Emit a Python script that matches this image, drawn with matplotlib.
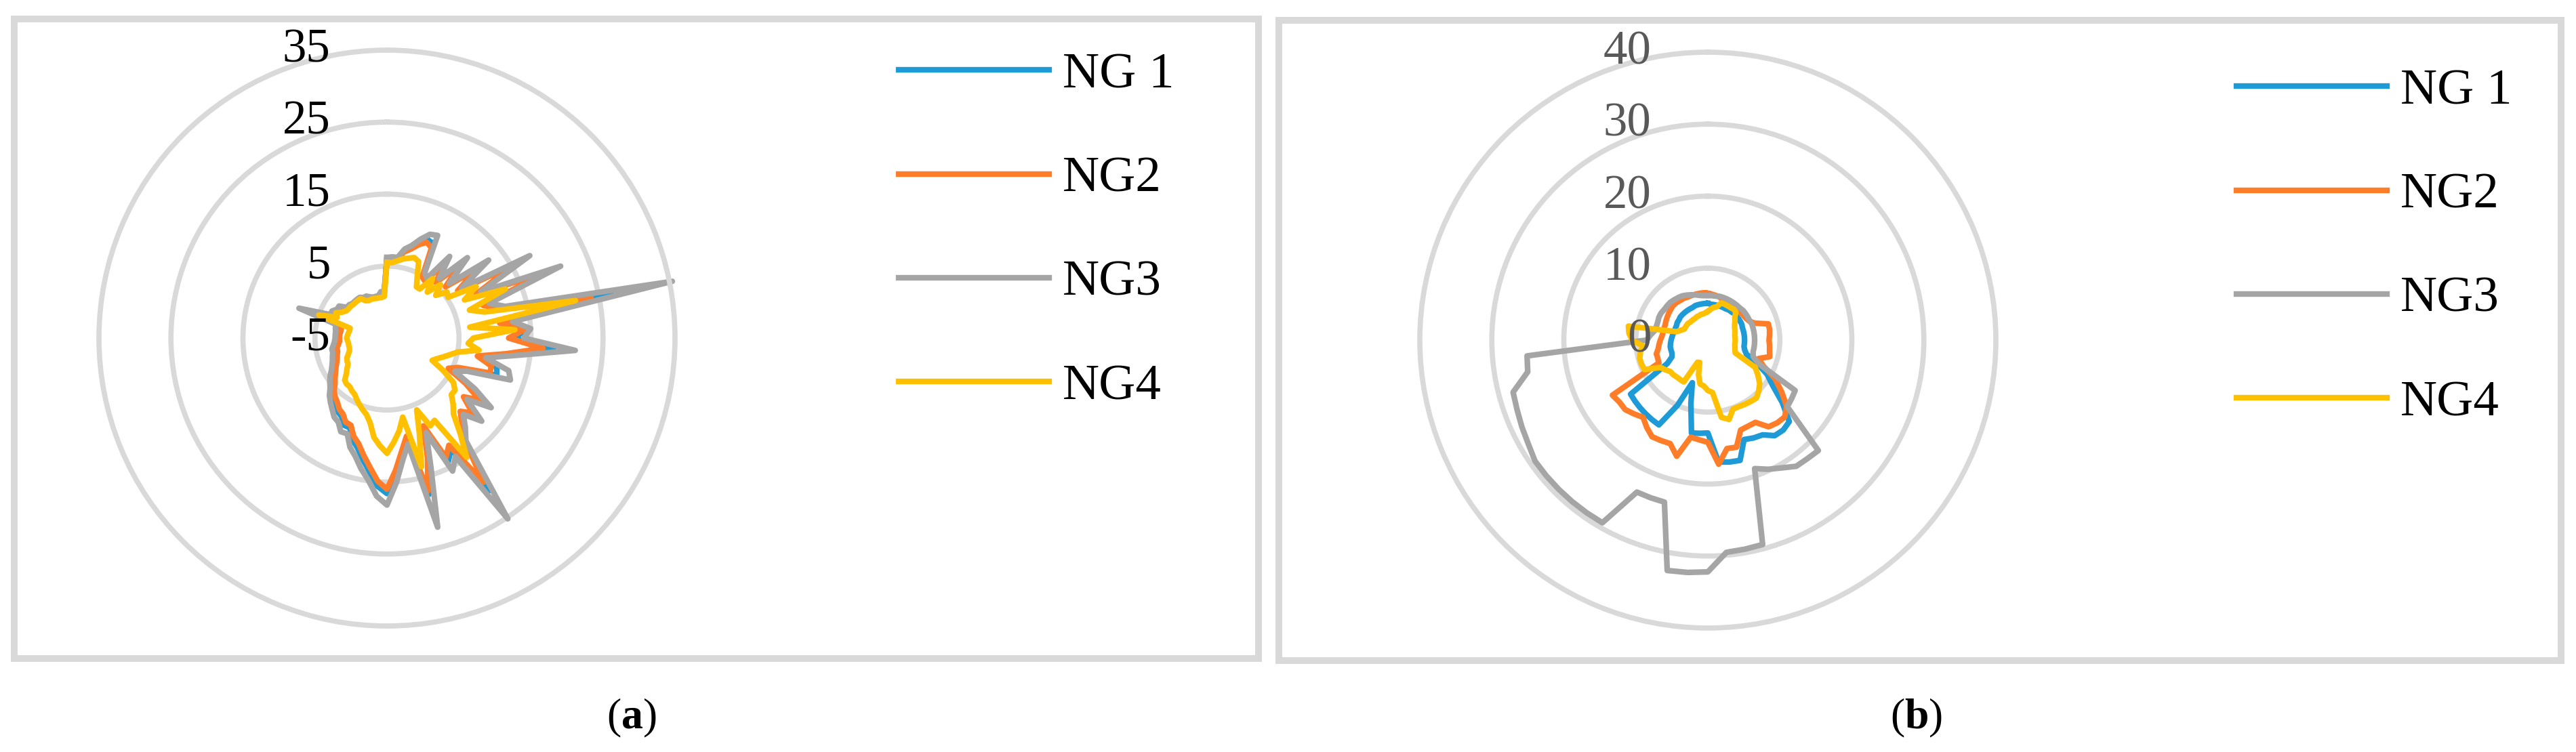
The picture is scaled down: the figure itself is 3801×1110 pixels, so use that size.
import numpy as np
import matplotlib
matplotlib.use("Agg")
import matplotlib.pyplot as plt
from matplotlib.patches import Rectangle

plt.rcParams['font.family'] = ['Liberation Serif', 'DejaVu Serif']
plt.rcParams['mathtext.fontset'] = 'custom'
plt.rcParams['mathtext.rm'] = 'Liberation Serif'
plt.rcParams['mathtext.bf'] = 'Liberation Serif:bold'

labels = ["NG 1", "NG2", "NG3", "NG4"]
colors = ["#1E9BD7", "#FF7D28", "#A5A5A5", "#FFC000"]

# panel (a): 96 categories, radial axis -5..35
ticks_a = [-5, 5, 15, 25, 35]
ng1_a = [6.1, 6.1, 6.2, 7.3, 8.0, 9.0, 9.8, 9.6, 5.0, 4.6,
         8.4, 5.5, 9.7, 6.0, 11.2, 7.0, 16.2, 9.0, 19.4, 9.4,
         11.4, 26.8, 11.4, 14.6, 12.6, 18.2, 12.2, 8.2, 10.8, 11.1,
         6.1, 4.8, 8.1, 11.1, 8.6, 11.4, 9.6, 11.0, 12.7, 20.5,
         12.8, 14.2, 8.5, 13.0, 17.5, 9.2, 11.2, 14.0, 16.6, 15.6,
         13.7, 12.2, 10.8, 9.9, 8.5, 8.5, 7.6, 7.3, 6.7, 6.2,
         5.7, 4.9, 4.4, 3.9, 3.4, 3.0, 2.7, 2.5, 2.3, 2.3,
         1.9, 1.8, 1.8, 1.7, 1.7, 1.7, 1.7, 7.0, 3.3, 3.4,
         2.9, 2.8, 1.9, 1.9, 1.7, 1.7, 1.7, 1.7, 1.4, 1.4,
         1.1, 0.9, 0.9, 0.9, 1.3, 1.1]
ng2_a = [6.0, 6.0, 6.1, 7.2, 7.8, 8.7, 9.4, 9.0, 4.8, 4.5,
         8.1, 5.3, 9.2, 5.8, 10.6, 6.8, 15.3, 8.8, 18.6, 9.1,
         11.1, 23.9, 10.8, 14.3, 11.9, 16.7, 11.7, 7.8, 10.0, 10.1,
         5.7, 4.5, 7.6, 10.5, 8.4, 10.8, 9.4, 10.8, 12.6, 19.1,
         12.2, 13.5, 8.2, 12.5, 17.0, 8.9, 10.8, 13.4, 16.0, 14.9,
         13.1, 11.6, 10.2, 9.4, 8.1, 8.0, 7.2, 6.9, 6.3, 5.9,
         5.4, 4.6, 4.1, 3.6, 3.2, 2.8, 2.5, 2.3, 2.1, 2.1,
         1.8, 1.6, 1.6, 1.6, 1.5, 1.5, 1.5, 6.5, 3.2, 3.3,
         2.8, 2.6, 1.9, 1.9, 1.7, 1.7, 1.7, 1.7, 1.3, 1.3,
         1.1, 0.9, 0.9, 0.9, 1.2, 1.1]
ng3_a = [6.2, 6.3, 6.3, 7.6, 8.3, 9.5, 10.6, 10.9, 5.5, 5.0,
         9.3, 6.0, 10.8, 6.5, 12.8, 7.5, 17.9, 9.5, 21.1, 10.0,
         12.0, 35.4, 12.6, 15.0, 14.0, 21.2, 13.3, 9.0, 12.5, 13.1,
         7.0, 5.5, 9.1, 12.4, 9.0, 12.5, 10.0, 11.5, 13.0, 25.2,
         14.0, 15.6, 9.2, 14.0, 22.2, 10.0, 12.0, 15.1, 18.2, 17.0,
         14.9, 13.5, 12.0, 11.0, 9.4, 9.5, 8.5, 8.2, 7.5, 6.9,
         6.3, 5.5, 5.0, 4.5, 3.9, 3.5, 3.2, 3.0, 2.8, 2.8,
         2.5, 2.3, 2.2, 2.2, 2.2, 2.3, 2.3, 7.9, 3.5, 3.5,
         3.0, 3.0, 2.0, 2.0, 1.8, 1.8, 1.8, 1.8, 1.5, 1.5,
         1.2, 1.0, 1.0, 1.0, 1.5, 1.2]
ng4_a = [5.5, 5.5, 5.8, 6.2, 6.5, 6.8, 6.5, 4.5, 3.2, 3.2,
         5.4, 3.5, 5.5, 4.0, 5.5, 5.2, 9.3, 7.0, 12.8, 7.1,
         9.0, 21.7, 6.6, 12.8, 7.0, 6.3, 7.9, 5.0, 4.0, 3.2,
         2.5, 2.0, 4.0, 6.1, 6.9, 6.9, 8.0, 9.0, 11.7, 14.9,
         8.2, 8.6, 5.8, 9.0, 13.5, 6.2, 8.0, 9.5, 11.0, 10.0,
         8.9, 7.0, 6.0, 5.5, 5.0, 4.5, 4.0, 3.8, 3.5, 3.5,
         3.3, 2.5, 2.0, 1.5, 1.4, 1.2, 0.8, 0.5, 0.4, 0.4,
         0.4, 0.5, 0.6, 0.5, 0.4, 0.3, 0.3, 5.0, 2.5, 2.9,
         2.2, 1.8, 1.7, 1.7, 1.6, 1.6, 1.6, 1.6, 1.0, 0.8,
         0.8, 0.8, 0.7, 0.7, 0.7, 0.8]

# panel (b): 72 categories, radial axis 0..40
ticks_b = [0, 10, 20, 30, 40]
ng1_b = [5.1, 5.0, 5.0, 5.0, 5.0, 5.0, 5.0, 5.1, 5.1, 5.2,
         5.2, 5.2, 5.2, 5.2, 5.1, 5.1, 5.1, 5.1, 5.1, 5.1,
         5.1, 5.3, 5.7, 7.5, 9.5, 11.0, 13.5, 16.0, 16.3, 16.2,
         15.2, 15.0, 14.7, 17.3, 17.2, 17.0, 12.9, 13.0, 13.1, 9.1,
         6.3, 10.0, 13.6, 13.5, 13.4, 13.3, 13.2, 13.1, 6.5, 5.5,
         5.3, 5.3, 5.3, 5.2, 5.1, 5.0, 4.9, 4.8, 4.8, 4.8,
         4.9, 4.9, 5.0, 5.0, 5.0, 5.0, 5.0, 5.0, 5.1, 5.1,
         5.1, 5.1]
ng2_b = [6.5, 6.4, 6.3, 6.2, 6.0, 6.0, 6.0, 6.0, 6.0, 6.0,
         6.0, 6.0, 6.1, 6.3, 6.9, 8.7, 8.7, 8.6, 8.5, 8.6,
         8.7, 8.9, 7.5, 8.5, 10.8, 12.5, 14.3, 15.1, 15.0, 14.7,
         13.2, 13.2, 13.3, 15.4, 15.3, 17.3, 14.2, 13.9, 13.7, 16.7,
         15.3, 15.4, 15.5, 14.8, 14.0, 14.5, 15.0, 15.0, 15.3, 7.5,
         7.4, 7.4, 7.0, 6.8, 6.6, 6.4, 6.3, 6.3, 6.3, 6.4,
         6.5, 6.6, 6.7, 6.8, 6.8, 6.7, 6.7, 6.6, 6.6, 6.6,
         6.6, 6.6]
ng3_b = [6.2, 6.2, 6.2, 6.3, 6.3, 6.3, 6.3, 6.3, 6.3, 6.3,
         6.4, 6.4, 6.4, 6.4, 6.5, 6.5, 6.5, 6.5, 6.5, 6.5,
         6.5, 6.5, 6.7, 7.8, 14.0, 14.2, 14.4, 21.7, 21.5, 21.4,
         20.5, 19.8, 19.0, 29.4, 29.5, 29.6, 32.2, 32.4, 32.5, 23.3,
         23.3, 23.3, 29.3, 29.3, 29.3, 29.3, 29.3, 29.3, 28.8, 28.5,
         28.2, 28.0, 25.4, 25.2, 8.5, 8.0, 7.5, 7.4, 7.4, 7.5,
         7.5, 7.4, 7.4, 7.4, 7.3, 7.2, 7.1, 6.9, 6.7, 6.5,
         6.3, 6.2]
ng4_b = [4.0, 4.3, 4.6, 4.8, 5.5, 5.5, 5.5, 5.5, 5.6, 5.5,
         4.9, 4.6, 4.3, 4.1, 4.0, 3.9, 3.8, 3.8, 3.8, 3.8,
         3.8, 3.9, 4.0, 4.2, 7.6, 8.5, 9.4, 10.0, 10.5, 10.4,
         10.3, 10.2, 10.2, 11.4, 10.9, 7.3, 7.0, 6.4, 6.2, 5.0,
         3.3, 3.4, 6.7, 6.7, 6.7, 6.8, 6.8, 7.2, 7.6, 9.7,
         9.8, 9.8, 9.5, 9.1, 10.5, 11.0, 11.2, 4.5, 4.0, 3.6,
         3.6, 3.6, 3.6, 3.5, 3.5, 3.5, 3.5, 3.6, 3.6, 3.7,
         3.7, 3.8]

GRID = "#D9D9D9"
W, H = 3801, 1110


def radar(ax, series, ticks, tick_color):
    n = len(series[0])
    theta = np.linspace(0, 2 * np.pi, n, endpoint=False)
    theta = np.append(theta, theta[0])
    ax.set_theta_zero_location('N')
    ax.set_theta_direction(-1)
    ax.set_ylim(ticks[0], ticks[-1])
    ax.set_yticks(ticks[1:-1])
    ax.set_yticklabels([])
    ax.set_xticks([])
    ax.grid(axis='y', color=GRID, linewidth=5.5)
    ax.spines['polar'].set_color(GRID)
    ax.spines['polar'].set_linewidth(5.5)
    ax.set_axisbelow(True)
    lines = []
    for vals, c, lab in zip(series, colors, labels):
        v = np.append(vals, vals[0])
        ln, = ax.plot(theta, v, color=c, lw=6, label=lab,
                      solid_joinstyle='round', clip_on=False)
        lines.append(ln)
    for t in ticks:
        ax.annotate(str(t), xy=(0, t), xytext=(-60, 0), textcoords='offset points',
                    ha='right', va='center', fontsize=51, color=tick_color)
    return lines


fig = plt.figure(figsize=(W / 100, H / 100), dpi=100)

R = 425
for cx, cy, series, ticks, tc, leg_x, leg_top in [
        (571, 499, [ng1_a, ng2_a, ng3_a, ng4_a], ticks_a, 'black', 1326, 77),
        (2520, 502, [ng1_b, ng2_b, ng3_b, ng4_b], ticks_b, '#595959', 3300, 101)]:
    ax = fig.add_axes([(cx - R) / W, 1 - (cy + R) / H, 2 * R / W, 2 * R / H],
                      projection='polar')
    lines = radar(ax, series, ticks, tc)
    fig.legend(handles=lines, loc='upper left',
               bbox_to_anchor=(leg_x / W, 1 - leg_top / H),
               frameon=False, fontsize=54, handlelength=2.96,
               handletextpad=0.27, labelspacing=1.13,
               borderpad=0, borderaxespad=0)

# panel frames
for x0, x1, y0, y1 in [(21, 1857, 28, 972), (1887, 3779, 30, 975)]:
    fig.patches.append(Rectangle((x0 / W, 1 - y1 / H), (x1 - x0) / W, (y1 - y0) / H,
                                 transform=fig.transFigure, fill=False,
                                 edgecolor=GRID, linewidth=7.2))

fig.text(932 / W, 1 - 1060 / H, r'($\mathbf{a}$)', ha='center', va='center', fontsize=46)
fig.text(2828 / W, 1 - 1060 / H, r'($\mathbf{b}$)', ha='center', va='center', fontsize=46)

fig.savefig("out.png", dpi=100, facecolor='white')
